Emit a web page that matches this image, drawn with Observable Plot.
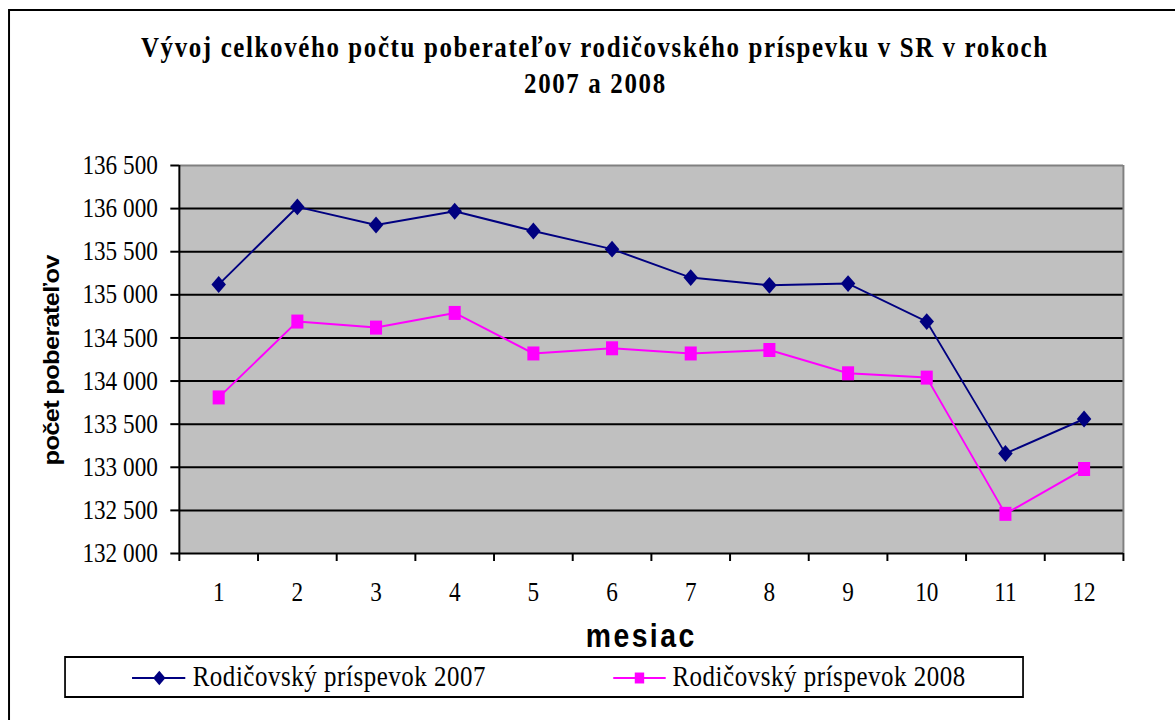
<!DOCTYPE html>
<html>
<head>
<meta charset="utf-8">
<script src="https://cdn.jsdelivr.net/npm/d3@7"></script>
<script src="https://cdn.jsdelivr.net/npm/@observablehq/plot@0.6"></script>
<style>
  html, body { margin: 0; padding: 0; background: #fff; overflow: hidden; }
  #page { position: relative; width: 1366px; height: 720px; transform: scaleX(0.8602); transform-origin: 0 0; }
  #chart, #overlay { position: absolute; left: 0; top: 0; }
</style>
</head>
<body>
<div id="page">
  <div id="chart"></div>
  <svg id="overlay" width="1366" height="720"></svg>
</div>
<script>
// ---- data ----
const months = [1, 2, 3, 4, 5, 6, 7, 8, 9, 10, 11, 12];
const values2007 = [135120, 136020, 135810, 135970, 135740, 135530, 135200, 135110, 135130, 134690, 133160, 133560];
const values2008 = [133810, 134690, 134620, 134790, 134320, 134380, 134320, 134360, 134090, 134040, 132460, 132980];
const yTicks = [132000, 132500, 133000, 133500, 134000, 134500, 135000, 135500, 136000, 136500];
const seriesNames = ["Rodičovský príspevok 2007", "Rodičovský príspevok 2008"];
const seriesColors = ["#000080", "#FF00FF"];
const titleLines = ["Vývoj celkového počtu poberateľov rodičovského príspevku v SR v rokoch", "2007 a 2008"];
const xLabel = "mesiac";
const yLabel = "počet poberateľov";

const d2007 = months.map((m, i) => ({month: m, value: values2007[i]}));
const d2008 = months.map((m, i) => ({month: m, value: values2008[i]}));
const boundaries = [...months.map(m => m - 0.5), months[months.length - 1] + 0.5];
const yMin = yTicks[0], yMax = yTicks[yTicks.length - 1];
const fmt = d => d3.format(",")(d).replace(/,/g, " ");

const chart = Plot.plot({
  width: 1366,
  height: 720,
  marginLeft: 208,
  marginRight: 60.5,
  marginTop: 165,
  marginBottom: 167,
  x: {type: "linear", domain: [boundaries[0], boundaries[boundaries.length - 1]]},
  y: {domain: [yMin, yMax]},
  style: {fontFamily: "'Liberation Serif', 'Times New Roman', serif", fontSize: "27px", color: "black", background: "transparent"},
  marks: [
    Plot.frame({fill: "#C0C0C0", stroke: null}),
    Plot.gridY(yTicks.slice(1, -1), {stroke: "black", strokeOpacity: 1, strokeWidth: 2}),
    Plot.ruleY([yMax], {stroke: "#808080", strokeWidth: 2}),
    Plot.ruleX([boundaries[boundaries.length - 1]], {stroke: "#808080", strokeWidth: 2.3}),
    Plot.ruleY([yMin], {stroke: "black", strokeWidth: 2}),
    Plot.ruleX([boundaries[0]], {stroke: "black", strokeWidth: 2.3}),
    Plot.axisY({ticks: yTicks, tickSize: 10, tickPadding: 15, tickFormat: fmt, label: null, strokeWidth: 2, fontFamily: "'Liberation Serif', serif", fontSize: 27}),
    Plot.axisX({ticks: boundaries, tickSize: 8, tickFormat: () => "", label: null, strokeWidth: 2.3}),
    Plot.axisX({ticks: months, tickSize: 0, tickPadding: 28, tickFormat: d => String(d), label: null, fontFamily: "'Liberation Serif', serif", fontSize: 27}),
    Plot.line(d2007, {x: "month", y: "value", stroke: seriesColors[0], strokeWidth: 2}),
    Plot.dot(d2007, {x: "month", y: "value", symbol: "diamond2", fill: seriesColors[0], stroke: null, r: 7.6}),
    Plot.line(d2008, {x: "month", y: "value", stroke: seriesColors[1], strokeWidth: 2}),
    Plot.dot(d2008, {x: "month", y: "value", symbol: "square", fill: seriesColors[1], stroke: null, r: 7.9})
  ]
});
document.getElementById("chart").appendChild(chart);

// ---- overlay: frame, title, axis titles, legend ----
const ov = d3.select("#overlay");
const serif = "'Liberation Serif', 'Times New Roman', serif";
const sans = "'Liberation Sans', Arial, sans-serif";

ov.append("line").attr("x1", 10.5).attr("x2", 1366).attr("y1", 10).attr("y2", 10).attr("stroke", "black").attr("stroke-width", 2);
ov.append("line").attr("x1", 10.5).attr("x2", 10.5).attr("y1", 9).attr("y2", 720).attr("stroke", "black").attr("stroke-width", 2.3);

ov.append("text").text(titleLines[0]).attr("x", 163.9).attr("y", 57)
  .attr("textLength", 1053.3).attr("lengthAdjust", "spacing")
  .attr("font-family", serif).attr("font-weight", "bold").attr("font-size", 29);
ov.append("text").text(titleLines[1]).attr("x", 609.2).attr("y", 93)
  .attr("textLength", 164).attr("lengthAdjust", "spacing")
  .attr("font-family", serif).attr("font-weight", "bold").attr("font-size", 29);

ov.append("text").text(yLabel).attr("transform", "translate(69,360) rotate(-90)")
  .attr("text-anchor", "middle").attr("textLength", 211).attr("lengthAdjust", "spacing")
  .attr("font-family", sans).attr("font-weight", "bold").attr("font-size", 25.5);

ov.append("text").text(xLabel).attr("x", 744).attr("y", 647)
  .attr("text-anchor", "middle").attr("textLength", 126).attr("lengthAdjust", "spacing")
  .attr("font-family", sans).attr("font-weight", "bold").attr("font-size", 33);

// legend
ov.append("rect").attr("x", 75.6).attr("y", 657).attr("width", 1113.7).attr("height", 40)
  .attr("fill", "white").attr("stroke", "black").attr("stroke-width", 2);
const legendItems = [
  {x1: 153.5, x2: 215.4, cx: 185.2, tx: 224, sym: d3.symbolDiamond2, size: 130},
  {x1: 712.9, x2: 773.9, cx: 743.4, tx: 781.7, sym: d3.symbolSquare, size: 120}
];
legendItems.forEach((it, i) => {
  const g = ov.append("g");
  g.append("line").attr("x1", it.x1).attr("x2", it.x2).attr("y1", 678).attr("y2", 678)
    .attr("stroke", seriesColors[i]).attr("stroke-width", 2);
  g.append("path").attr("d", d3.symbol(it.sym, it.size)()).attr("transform", `translate(${it.cx},678)`)
    .attr("fill", seriesColors[i]);
  g.append("text").text(seriesNames[i]).attr("x", it.tx).attr("y", 686)
    .attr("textLength", 340.5).attr("lengthAdjust", "spacing")
    .attr("font-family", serif).attr("font-size", 29);
});
</script>
</body>
</html>
